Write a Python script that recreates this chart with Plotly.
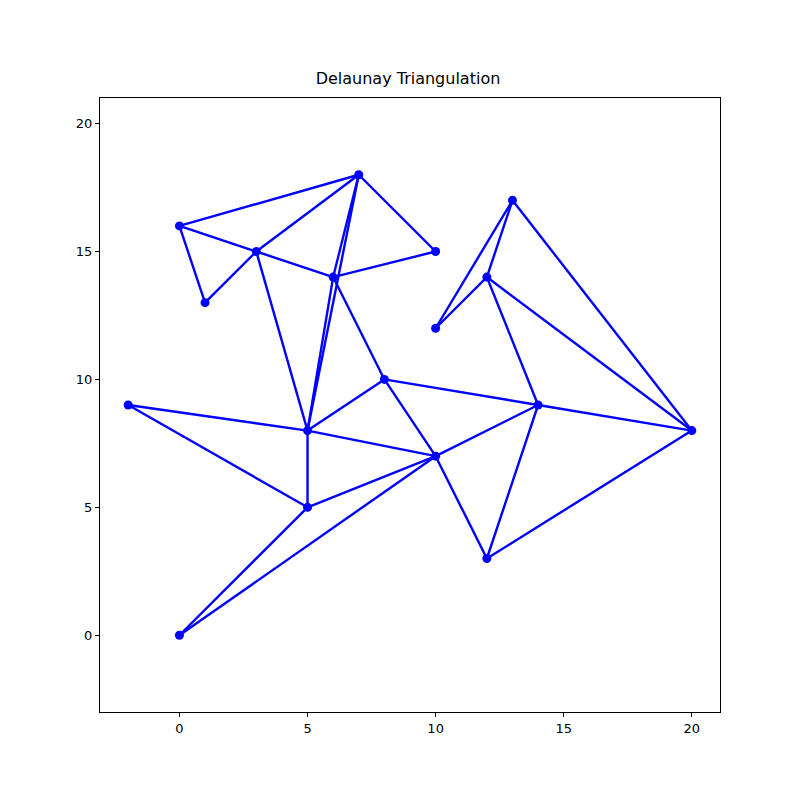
import plotly.graph_objects as go

xs = [0, 1, 3, 7, 6, 10, 13, 12, 10, 8, -2, 5, 14, 20, 10, 5, 12, 0]
ys = [16, 13, 15, 18, 14, 15, 17, 14, 12, 10, 9, 8, 9, 8, 7, 5, 3, 0]
edges = [(0,3),(0,2),(0,1),(1,2),(2,4),(2,3),(3,4),(3,5),(4,5),(2,11),(4,11),(3,11),
         (4,9),(9,11),(9,14),(9,12),(10,11),(10,15),(11,15),(11,14),(15,14),(15,17),
         (17,14),(14,12),(14,16),(16,12),(16,13),(12,13),(7,12),(7,13),(6,13),(6,7),
         (6,8),(8,7)]

lx, ly = [], []
for a, b in edges:
    lx += [xs[a], xs[b], None]
    ly += [ys[a], ys[b], None]

fig = go.Figure()
fig.add_trace(go.Scatter(x=lx, y=ly, mode="lines", line=dict(color="blue", width=2.4), hoverinfo="skip"))
fig.add_trace(go.Scatter(x=xs, y=ys, mode="markers", marker=dict(color="blue", size=9)))

ax = dict(showgrid=False, zeroline=False, showline=True, linecolor="black", mirror=True,
          ticks="outside", ticklen=4, tickcolor="black", tickfont=dict(size=13, color="black"))
fig.update_layout(
    width=800, height=800, showlegend=False,
    plot_bgcolor="white", paper_bgcolor="white",
    font=dict(family="DejaVu Sans", color="black"),
    title=dict(text="Delaunay Triangulation", x=0.5, xanchor="center", y=0.905, yanchor="bottom",
               font=dict(size=16)),
    margin=dict(l=92, r=88, t=90, b=96),
)
fig.update_xaxes(range=[-3.1, 21.1], tickvals=[0, 5, 10, 15, 20], **ax)
fig.update_yaxes(range=[-3, 21], tickvals=[0, 5, 10, 15, 20], **ax)
fig.write_html("out.html")
